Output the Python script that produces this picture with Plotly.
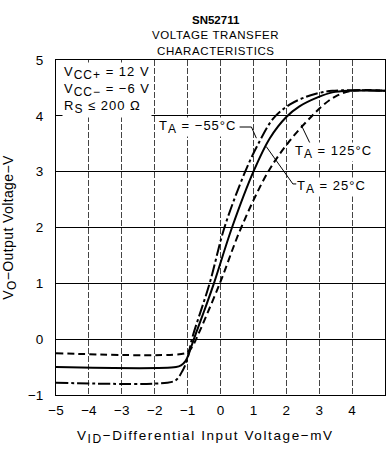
import plotly.graph_objects as go

# Data (x: differential input voltage mV, y: output voltage V)
x_25 = [-5, -1.35, -1.2, -1.06, -0.95, -0.81, -0.5, -0.2, 0.35, 1.0, 1.5, 2.0, 2.4, 2.95, 3.4, 3.9, 5]
y_25 = [-0.5, -0.5, -0.47, -0.39, -0.24, 0.0, 0.5, 1.0, 2.0, 3.0, 3.6, 3.98, 4.17, 4.33, 4.42, 4.45, 4.45]

x_m55 = [-5, -1.62, -1.35, -1.15, -1.01, -0.87, -0.33, 0.12, 0.75, 1.15, 1.6, 2.1, 2.6, 3.0, 3.4, 5]
y_m55 = [-0.78, -0.78, -0.73, -0.56, -0.36, 0.0, 1.0, 2.0, 3.0, 3.5, 3.95, 4.2, 4.34, 4.41, 4.45, 4.45]

x_125 = [-5, -1.06, -0.95, -0.84, -0.74, -0.02, 0.63, 1.45, 2.1, 2.75, 3.1, 3.5, 4.0, 5]
y_125 = [-0.25, -0.25, -0.2, -0.12, 0.0, 1.0, 2.0, 3.0, 3.55, 3.98, 4.18, 4.35, 4.45, 4.45]

x_ticks = [-5, -4, -3, -2, -1, 0, 1, 2, 3, 4, 5]
x_tick_text = ["\u22125", "\u22124", "\u22123", "\u22122", "\u22121", "0", "1", "2", "3", "4", "5"]
y_ticks = [-1, 0, 1, 2, 3, 4, 5]
y_tick_text = ["\u22121", "0", "1", "2", "3", "4", "5"]

FONT = "Liberation Sans, Arial, sans-serif"


def sp(text, ls=1.0):
    return '<span style="letter-spacing:%spx">%s</span>' % (ls, text)


def sub(text):
    return '<sub><span style="font-size:12px">%s</span></sub>' % text


fig = go.Figure()
fig.add_trace(go.Scatter(x=x_m55, y=y_m55, mode="lines",
                         line=dict(color="black", width=2, dash="12px,3px,3px,3px", shape="spline", smoothing=1.0),
                         hoverinfo="skip", showlegend=False))
fig.add_trace(go.Scatter(x=x_25, y=y_25, mode="lines",
                         line=dict(color="black", width=2, shape="spline", smoothing=1.0),
                         hoverinfo="skip", showlegend=False))
fig.add_trace(go.Scatter(x=x_125, y=y_125, mode="lines",
                         line=dict(color="black", width=2, dash="7px,4px", shape="spline", smoothing=1.0),
                         hoverinfo="skip", showlegend=False))

# leader lines
fig.add_shape(type="path", path="M 0.58 3.80 L 0.94 3.80 L 1.09 3.60", line=dict(color="black", width=1), layer="above")
fig.add_shape(type="path", path="M 2.76 3.46 L 2.45 3.84", line=dict(color="black", width=1), layer="above")
fig.add_shape(type="path", path="M 1.39 3.45 L 2.20 2.78 L 2.31 2.78", line=dict(color="black", width=1), layer="above")

ann_font = dict(family=FONT, size=13, color="black")
fig.add_annotation(x=-4.82, y=4.97, xref="x", yref="y", xanchor="left", yanchor="top", align="left",
                   text=sp("V" + sub("CC+") + " = 12 V") + "<br>" +
                        sp("V" + sub("CC\u2212") + " = \u22126 V") + "<br>" +
                        sp("R" + sub("S") + " \u2264 200 \u03a9"),
                   showarrow=False, font=ann_font, bgcolor="white", borderpad=1)
fig.add_annotation(x=-0.70, y=3.80, xref="x", yref="y", text=sp("T" + sub("A") + " = \u221255\u00b0C"),
                   showarrow=False, font=ann_font, bgcolor="white", borderpad=0)
fig.add_annotation(x=3.43, y=3.35, xref="x", yref="y", text=sp("T" + sub("A") + " = 125\u00b0C"),
                   showarrow=False, font=ann_font, bgcolor="white", borderpad=0)
fig.add_annotation(x=3.36, y=2.72, xref="x", yref="y", text=sp("T" + sub("A") + " = 25\u00b0C"),
                   showarrow=False, font=ann_font, bgcolor="white", borderpad=0)

# title lines
tfont = dict(family=FONT, size=11.5, color="black")
fig.add_annotation(x=0.486, y=1.143, xref="paper", yref="paper", text="<b>SN52711</b>", showarrow=False, font=tfont)
fig.add_annotation(x=0.486, y=1.099, xref="paper", yref="paper", text=sp("VOLTAGE TRANSFER", 0.6), showarrow=False, font=tfont)
fig.add_annotation(x=0.486, y=1.051, xref="paper", yref="paper", text=sp("CHARACTERISTICS", 0.6), showarrow=False, font=tfont)

# x-axis title (offset left of centre as in the reference)
fig.add_annotation(x=0.455, y=-0.125, xref="paper", yref="paper", yanchor="middle",
                   text=sp("V" + sub("ID") + "\u2212Differential Input Voltage\u2212mV", 1.6),
                   showarrow=False, font=dict(family=FONT, size=13.5, color="black"))

fig.update_layout(
    width=386, height=449,
    margin=dict(l=56, r=1, t=60, b=54),
    paper_bgcolor="white", plot_bgcolor="white",
    font=dict(family=FONT, size=13, color="black"),
    xaxis=dict(range=[-5, 5], tickvals=x_ticks, ticktext=x_tick_text,
               showgrid=True, gridcolor="#444444", gridwidth=1, griddash="6px,2px",
               showline=True, linecolor="black", linewidth=1, mirror=True, zeroline=False,
               ticks="", ticklabelstandoff=3, tickfont=dict(size=13.5)),
    yaxis=dict(range=[-1, 5], tickvals=y_ticks, ticktext=y_tick_text,
               showgrid=True, gridcolor="black", gridwidth=1,
               showline=True, linecolor="black", linewidth=1, mirror=True, zeroline=False,
               ticks="", ticklabelstandoff=9, tickfont=dict(size=13.5),
               title=dict(text=sp("V" + sub("O") + "\u2212Output Voltage\u2212V", 0.4), standoff=12,
                          font=dict(family=FONT, size=14))),
)

fig.write_html("out.html")
